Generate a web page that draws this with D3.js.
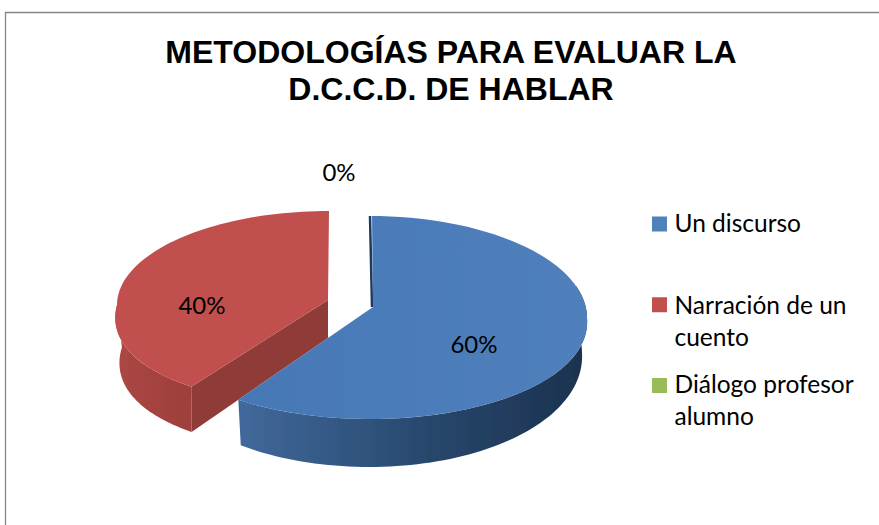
<!DOCTYPE html>
<html><head><meta charset="utf-8">
<script src="https://cdn.jsdelivr.net/npm/d3@7"></script>
<style>html,body{margin:0;padding:0;background:#fff}svg{display:block}</style>
</head><body><svg id="c" width="879" height="525"></svg>
<script>
const categories = ["Un discurso", "Narración de un cuento", "Diálogo profesor alumno"];
const values = [60, 40, 0];
const titleLines = ["METODOLOGÍAS PARA EVALUAR LA", "D.C.C.D. DE HABLAR"];
const legendLines = [["Un discurso"], ["Narración de un", "cuento"], ["Diálogo profesor", "alumno"]];
const colors = ["#4f81bd", "#c0504d", "#9bbb59"];

const svg = d3.select("#c");
const W = 879, H = 525;
svg.append("path").attr("d", `M5.5,${H}V12.5H${W}`).attr("fill", "none").attr("stroke", "#868686").attr("stroke-width", 1.3);

const title = svg.append("text").attr("font-family", "Liberation Sans").attr("font-weight", 700)
  .attr("font-size", 32).attr("text-anchor", "middle").attr("fill", "#000");
title.selectAll("tspan").data(titleLines).join("tspan")
  .attr("x", 451).attr("y", (d, i) => 63 + i * 36.5).text(d => d);

// Projection of each slice: ellipses for the top and bottom rims plus wall extent
const views = [
  {top:{cx:370,cy:318,rx:217,ry:102,ryFront:101,p:0.04}, bot:{cx:369,cy:353,rx:213,ry:112,ryFront:114,p:0.03}, apex:[373,307], apexDepth:0, wall:[1.25,null], label:[474,345]},
  {top:{cx:329,cy:305,rx:212,ry:94,ryFront:101,p:0.13},  bot:{cx:329,cy:347,rx:207,ry:105,ryFront:105,p:0.16}, apex:[328,300], apexDepth:38, wall:[null,4.71], label:[202,306]},
  {top:null, label:[339,173]}
];
const rim = (e, a) => {
  const u = -Math.cos(a);
  const x = d3.scaleLinear([-1,1],[e.cx-e.rx,e.cx+e.rx]);
  const y = d3.scaleLinear([-1,0,1],[e.cy-e.ry,e.cy,e.cy+e.ryFront]);
  return [x(Math.sin(a)*(1+e.p*Math.max(u,0))), y(u)];
};
const samples = (a0, a1) => d3.range(0, 81).map(i => a0 + (a1 - a0) * i / 80);
const line = d3.line();

const defs = svg.append("defs");
const gb = defs.append("linearGradient").attr("id","wallBlue");
[[0,"#41699b"],[.25,"#355a87"],[.55,"#28476c"],[1,"#1a324e"]].forEach(s=>gb.append("stop").attr("offset",s[0]).attr("stop-color",s[1]));
const gr = defs.append("linearGradient").attr("id","wallRed");
[[0,"#ab4744"],[1,"#9e3f3c"]].forEach(s=>gr.append("stop").attr("offset",s[0]).attr("stop-color",s[1]));
const gt = defs.append("linearGradient").attr("id","topBlue");
[[0,"#4678b6"],[1,"#5080bc"]].forEach(s=>gt.append("stop").attr("offset",s[0]).attr("stop-color",s[1]));
defs.append("filter").attr("id","soft").append("feGaussianBlur").attr("stdDeviation",0.6);

const arcs = d3.pie().sort(null)(values);
const pie = svg.append("g").attr("filter","url(#soft)");

// red slice first, blue slice in front of it
[1, 0].forEach(i => {
  const a = arcs[i], v = views[i];
  const g = pie.append("g");
  if (i === 1) {
    const outer = samples(a.startAngle, v.wall[1]);
    g.append("path").attr("fill","url(#wallRed)")
      .attr("d", line([...outer.map(t=>rim(v.top,t)), ...outer.slice().reverse().map(t=>rim(v.bot,t))])+"Z");
    const tipT = rim(v.top,a.startAngle), tipB = rim(v.bot,a.startAngle);
    g.append("path").attr("fill","#8f3b39")
      .attr("d", line([tipT, v.apex, [v.apex[0], v.apex[1]+v.apexDepth], tipB])+"Z");
    g.append("path").attr("fill",colors[1])
      .attr("d", line([v.apex, ...samples(a.startAngle,a.endAngle).map(t=>rim(v.top,t))])+"Z");
  } else {
    const outer = samples(v.wall[0], a.endAngle);
    g.append("path").attr("fill","url(#wallBlue)")
      .attr("d", line([...outer.map(t=>rim(v.top,t)), ...outer.slice().reverse().map(t=>rim(v.bot,t))])+"Z");
    const s0 = rim(v.top,a.startAngle);
    g.append("path").attr("fill","none").attr("stroke","#1f3a5c").attr("stroke-width",2.5)
      .attr("d", line([[s0[0],s0[1]],[v.apex[0]-1,v.apex[1]]]));
    g.append("path").attr("fill","url(#topBlue)")
      .attr("d", line([v.apex, ...samples(a.startAngle,a.endAngle).map(t=>rim(v.top,t)).map((p,k)=>k===0?[p[0]+2,p[1]]:p)].reverse())+"Z");
  }
});

const pct = d3.format(".0%"), total = d3.sum(values);
svg.append("g").selectAll("text").data(values).join("text")
  .attr("x",(d,i)=>views[i].label[0]).attr("y",(d,i)=>views[i].label[1]+8)
  .attr("text-anchor","middle").attr("font-family","Lato").attr("font-size",24).attr("fill","#000")
  .text(d=>pct(d/total));

// legend
const legendTop = d3.scalePoint().domain(categories).range([216.5,378]);
const lineGap = 32;
const baselines = [232, 314, 393];
const lg = svg.append("g").selectAll("g").data(categories).join("g");
lg.append("rect").attr("x",652).attr("y",d=>legendTop(d)).attr("width",15).attr("height",15).attr("fill",(d,i)=>colors[i]);
lg.append("text").attr("font-family","Lato").attr("font-size",24.5).attr("fill","#000")
  .selectAll("tspan").data((d,i)=>legendLines[i].map((s,k)=>({s,y:baselines[i]+k*lineGap}))).join("tspan")
  .attr("x",674.5).attr("y",d=>d.y).text(d=>d.s);
</script></body></html>
